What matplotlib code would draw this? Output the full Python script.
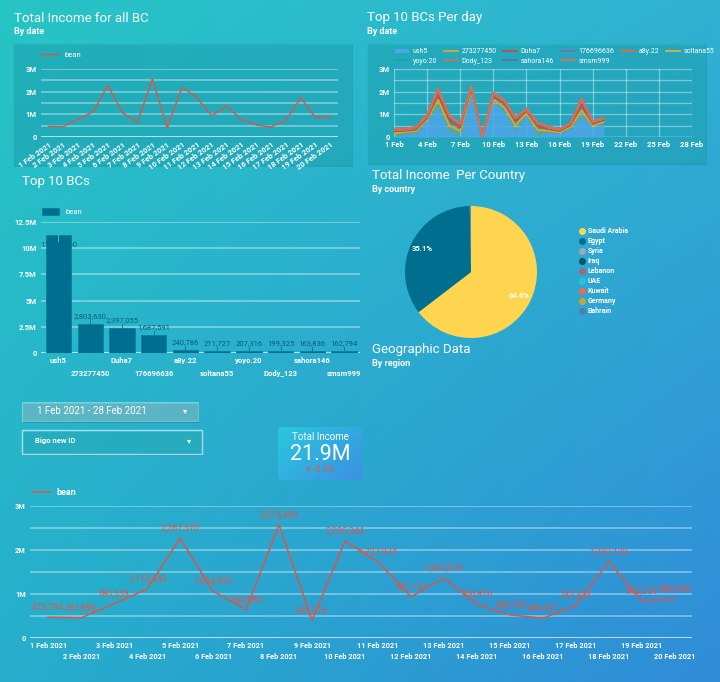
import numpy as np
import matplotlib.pyplot as plt
from matplotlib.patches import Rectangle, FancyBboxPatch, Patch

plt.rcParams['font.family'] = ['Roboto', 'DejaVu Sans']

W, H = 720, 682

# ---- data ----
days = list(range(1, 21))
day_labels = [f"{d} Feb 2021" for d in days]
daily_bean = [473794, 457889, 780553, 1110443, 2267570, 1064935, 646889,
              2573409, 395374, 2205344, 1727974, 937151, 1362976, 766876,
              528185, 448437, 742324, 1732129, 842234, 884698]

bc_names = ["ush5", "273277450", "Duha7", "176696636", "a8y.22",
            "soltana55", "yoyo.20", "Dody_123", "sahora146", "smsm999"]
bc_totals = [11300000, 2803630, 2397055, 1687591, 240786,
             211727, 207316, 199325, 163836, 162794]

# daily beans of the top 10 BCs (thousands), estimated from the small chart
ush5_day = [30, 160, 150, 700, 1350, 220, 70, 1950, 0, 1550, 1150, 250, 1000, 60, 200, 160, 340, 950, 450, 560]
p273_day = [140, 60, 120, 80, 300, 300, 200, 60, 0, 120, 150, 260, 60, 250, 80, 50, 100, 230, 60, 120]
duha7_day = [80, 50, 60, 60, 200, 260, 150, 100, 0, 120, 180, 200, 80, 180, 70, 50, 80, 250, 70, 60]
p176_day = [60, 40, 60, 80, 200, 120, 120, 60, 0, 100, 80, 100, 60, 100, 60, 40, 60, 200, 60, 60]
a8y_day = [15, 12, 12, 10, 20, 15, 10, 15, 0, 15, 12, 10, 10, 12, 10, 10, 10, 15, 10, 12]
soltana_day = [12, 10, 10, 10, 18, 12, 10, 12, 0, 14, 12, 10, 10, 10, 10, 8, 10, 14, 10, 10]
yoyo_day = [10, 10, 10, 10, 16, 12, 10, 12, 0, 14, 12, 10, 10, 10, 10, 8, 10, 14, 10, 10]
dody_day = [10, 10, 10, 10, 15, 12, 10, 12, 0, 12, 12, 10, 10, 10, 10, 8, 10, 14, 10, 8]
sahora_day = [8, 8, 8, 8, 12, 10, 8, 10, 0, 10, 10, 8, 8, 8, 8, 6, 8, 10, 8, 8]
smsm_day = [8, 8, 8, 8, 12, 10, 8, 10, 0, 10, 10, 8, 8, 8, 8, 6, 8, 10, 8, 8]
per_day = [ush5_day, p273_day, duha7_day, p176_day, a8y_day,
           soltana_day, yoyo_day, dody_day, sahora_day, smsm_day]
per_day_colors = ["#4da6e8", "#d9a92c", "#c94a40", "#7d6fa8", "#e8683c",
                  "#d8b534", "#1ba4ab", "#e06a4e", "#5a72b0", "#ea6c50"]

countries = ["Saudi Arabia", "Egypt", "Syria", "Iraq", "Lebanon",
             "UAE", "Kuwait", "Germany", "Bahrain"]
country_share = [64.6, 35.1, 0.08, 0.06, 0.05, 0.04, 0.03, 0.02, 0.02]
country_colors = ["#ffd54f", "#006f8f", "#9eaab4", "#00576e", "#a0687e",
                  "#28c4d8", "#ef6b55", "#c9a33a", "#4f7fae"]

RED = "#dc5546"
BAR = "#006f8f"

fig = plt.figure(figsize=(7.2, 6.82), dpi=100)

# background canvas in pixel coords
bg = fig.add_axes([0, 0, 1, 1], zorder=-10)
yy, xx = np.mgrid[0:1:200j, 0:1:200j]
tl = np.array([38, 197, 197]) / 255
tr = np.array([48, 178, 210]) / 255
bl = np.array([38, 174, 204]) / 255
br = np.array([48, 140, 216]) / 255
img = (tl * ((1 - xx) * (1 - yy))[..., None] + tr * (xx * (1 - yy))[..., None]
       + bl * ((1 - xx) * yy)[..., None] + br * (xx * yy)[..., None])
bg.imshow(img, aspect='auto', extent=[0, W, H, 0])
bg.axis('off')


def ax_px(x0, y0, x1, y1):
    a = fig.add_axes([x0 / W, 1 - y1 / H, (x1 - x0) / W, (y1 - y0) / H])
    a.set_facecolor('none')
    for s in a.spines.values():
        s.set_visible(False)
    return a


def txt(x, y, s, **kw):
    kw.setdefault('color', 'white')
    kw.setdefault('va', 'center')
    bg.text(x, y, s, **kw)


def grid_lines(ax, top, step):
    for g in np.arange(step, top + 1, step):
        ax.axhline(g, color='white', alpha=0.45, lw=1.1, zorder=0)
    ax.axhline(0, color='white', alpha=0.85, lw=1.1, zorder=0)


def stagger(ax, low=11, high=3):
    # every other x label on a second row
    for i, t in enumerate(ax.xaxis.get_major_ticks()):
        t.set_pad(high if i % 2 == 0 else low)


# panel boxes for the two top charts
for (x0, y0, x1, y1) in [(13, 43, 352, 165), (367, 43, 706, 163)]:
    bg.add_patch(Rectangle((x0 + 1, y0 + 2), x1 - x0, y1 - y0, facecolor='#0b5f75',
                           alpha=0.22, edgecolor='none'))
    bg.add_patch(Rectangle((x0, y0), x1 - x0, y1 - y0, facecolor='#22b2c0',
                           alpha=0.45, edgecolor='none'))

# titles
TS = 9.5
txt(14, 18, "Total Income for all BC", fontsize=TS)
txt(14, 31, "By date", fontsize=6.5, fontweight='bold')
txt(367, 18, "Top 10 BCs Per day", fontsize=TS)
txt(367, 31, "By date", fontsize=6.5, fontweight='bold')
txt(22, 181, "Top 10 BCs", fontsize=TS)
txt(372, 176, "Total Income  Per Country", fontsize=TS)
txt(372, 190, "By country", fontsize=6.5, fontweight='bold')
txt(372, 350, "Geographic Data", fontsize=TS)
txt(372, 364, "By region", fontsize=6.5, fontweight='bold')

x = np.arange(len(days))

# ---- chart 1: total income ----
ax1 = ax_px(41, 69, 338, 137)
grid_lines(ax1, 3e6, 0.5e6)
ax1.plot(x, daily_bean, color=RED, lw=1, label='bean')
ax1.set_ylim(0, 3e6)
ax1.set_xlim(-0.5, 19.5)
ax1.set_yticks([0, 1e6, 2e6, 3e6])
ax1.set_yticklabels(['0', '1M', '2M', '3M'], fontweight='bold')
ax1.set_xticks(x)
ax1.set_xticklabels(day_labels, rotation=35, ha='right', rotation_mode='anchor',
                    fontweight='bold')
ax1.tick_params(length=0, labelsize=5.5, labelcolor='white', pad=3)
ax1.legend(loc='lower left', bbox_to_anchor=(-0.01, 1.12), frameon=False,
           fontsize=5.5, labelcolor='white', handlelength=2.2, borderaxespad=0)

# ---- chart 2: top 10 per day ----
ax2 = ax_px(394, 69, 692, 137)
dx = np.array(days)
for g in np.arange(0.5e6, 3.01e6, 0.5e6):
    ax2.axhline(g, color='white', alpha=0.4, lw=0.9, zorder=0)
for d in range(1, 29, 3):
    ax2.axvline(d, color='white', alpha=0.4, lw=0.9, zorder=0)
ax2.axhline(0, color='white', alpha=0.85, lw=1, zorder=0)
base = np.zeros(len(days))
handles = []
for i, (name, vals) in enumerate(zip(bc_names, per_day)):
    top = base + np.array(vals) * 1000
    if i == 0:
        ax2.fill_between(dx, base, top, color=per_day_colors[i], alpha=0.85, lw=0)
        handles.append(Patch(facecolor=per_day_colors[i], label=name))
    else:
        ax2.fill_between(dx, base, top, color=per_day_colors[i], alpha=0.3, lw=0)
        ln, = ax2.plot(dx, top, color=per_day_colors[i], lw=1.3, label=name)
        handles.append(ln)
    base = top
ax2.set_ylim(0, 3e6)
ax2.set_xlim(1, 28)
ax2.set_yticks([0, 1e6, 2e6, 3e6])
ax2.set_yticklabels(['0', '1M', '2M', '3M'], fontweight='bold')
ax2.set_xticks(range(1, 29, 3))
ax2.set_xticklabels([f"{d} Feb" for d in range(1, 29, 3)], fontweight='bold')
ax2.tick_params(length=0, labelsize=5.5, labelcolor='white', pad=3)
order = [0, 6, 1, 7, 2, 8, 3, 9, 4, 5]
ax2.legend([handles[k] for k in order], [bc_names[k] for k in order], ncol=6,
           loc='lower left', bbox_to_anchor=(-0.005, 1.02), frameon=False,
           fontsize=5.0, labelcolor='white', handlelength=2.0, columnspacing=1.0,
           handletextpad=0.5, labelspacing=0.35, borderaxespad=0)

# ---- chart 3: top 10 BCs bars ----
ax3 = ax_px(41, 222, 360, 353)
grid_lines(ax3, 12.5e6, 2.5e6)
bi = np.arange(len(bc_names))
ax3.bar(bi, bc_totals, width=0.8, color=BAR, edgecolor='#0b7fa0', lw=0.6,
        label='bean', zorder=3)
for i, v in enumerate(bc_totals):
    if v > 10e6:
        ax3.text(i, v - 0.9e6, f"{v:,}", ha='center', va='center', fontsize=5.5,
                 color='#0d5c78', zorder=2)
        ax3.plot([i, i], [v, v - 0.6e6], color='#7fb8c8', lw=0.6, zorder=4)
    else:
        ax3.text(i, v + 0.75e6, f"{v:,}", ha='center', va='center', fontsize=5.5,
                 color='#0d5c78', zorder=4)
        ax3.plot([i, i], [v, v + 0.4e6], color='#1a6f8a', lw=0.6, zorder=4)
ax3.set_ylim(0, 12.5e6)
ax3.set_xlim(-0.55, 9.5)
ax3.set_yticks(np.arange(0, 12.6e6, 2.5e6))
ax3.set_yticklabels(['0', '2.5M', '5M', '7.5M', '10M', '12.5M'], fontweight='bold')
ax3.set_xticks(bi)
ax3.set_xticklabels(bc_names, fontweight='bold')
ax3.tick_params(length=0, labelsize=5.5, labelcolor='white', pad=3)
stagger(ax3, low=12, high=3)
ax3.legend(loc='lower left', bbox_to_anchor=(-0.005, 1.03), frameon=False,
           fontsize=5.5, labelcolor='white', handlelength=2.2, handleheight=1.0,
           borderaxespad=0)

# ---- chart 4: pie ----
ax4 = ax_px(405, 206, 537, 338)


def pct(p):
    return f"{p:.1f}%" if p > 5 else ""


ax4.pie(country_share, colors=country_colors, startangle=90, counterclock=False,
        autopct=pct, pctdistance=0.82, radius=1,
        textprops=dict(color='white', fontsize=5.5, fontweight='bold'))
ax4.set_xlim(-1, 1)
ax4.set_ylim(-1, 1)
ax4.set_aspect('equal')
for i, c in enumerate(countries):
    yc = 231 + i * 10
    bg.scatter([582], [yc], s=16, color=country_colors[i], zorder=3)
    txt(588, yc, c, fontsize=5, fontweight='bold')

# ---- controls ----
bg.add_patch(Rectangle((23, 404), 176, 19, facecolor='#0a5f70', alpha=0.3, edgecolor='none'))
bg.add_patch(Rectangle((22, 402), 176, 19, facecolor='white', alpha=0.28,
                       edgecolor='white', lw=0.8))
txt(37, 411, "1 Feb 2021 - 28 Feb 2021", fontsize=7)
txt(183, 411, "▾", fontsize=6)
bg.add_patch(Rectangle((23, 432), 180, 24, facecolor='#0a5f70', alpha=0.25, edgecolor='none'))
bg.add_patch(Rectangle((22, 430), 180, 24, facecolor='#2bb8c8', alpha=0.6,
                       edgecolor='white', lw=1))
txt(35, 441, "Bigo new ID", fontsize=5.5, fontweight='bold')
txt(187, 441, "▾", fontsize=6)

# scorecard
grad = np.linspace(0, 1, 100)[None, :] * 0.6 + np.linspace(0, 1, 60)[:, None] * 0.4
c0 = np.array([40, 200, 222]) / 255
c1 = np.array([60, 145, 226]) / 255
card = c0 * (1 - grad[..., None]) + c1 * grad[..., None]
im = bg.imshow(card, aspect='auto', extent=[278, 362, 480, 427], zorder=2)
clip = FancyBboxPatch((278, 427), 84, 53, boxstyle='round,pad=0,rounding_size=3',
                      transform=bg.transData, facecolor='none', edgecolor='none')
bg.add_patch(clip)
im.set_clip_path(clip)
bg.set_xlim(0, W)
bg.set_ylim(H, 0)
txt(320, 437, "Total Income", fontsize=7, ha='center', zorder=3)
txt(320, 454, "21.9M", fontsize=15.5, ha='center', zorder=3)
txt(320, 469, "▾ -0.3%", fontsize=6.5, ha='center', color='#e05a48', zorder=3)

# ---- chart 5: bottom big line ----
ax5 = ax_px(30, 506, 692, 638)
grid_lines(ax5, 3e6, 0.5e6)
ax5.plot(x, daily_bean, color=RED, lw=1.1, label='bean')
for i, v in enumerate(daily_bean):
    ax5.annotate(f"{v:,}", (i, v), xytext=(0, 7), textcoords='offset points',
                 ha='center', va='center', fontsize=6.5, color='#e0564a')
ax5.set_ylim(0, 3e6)
ax5.set_xlim(-0.55, 19.52)
ax5.set_yticks([0, 1e6, 2e6, 3e6])
ax5.set_yticklabels(['0', '1M', '2M', '3M'], fontweight='bold')
ax5.set_xticks(x)
ax5.set_xticklabels(day_labels, fontweight='bold')
ax5.tick_params(length=0, labelsize=5.3, labelcolor='white', pad=3)
stagger(ax5, low=11, high=3)
ax5.legend(loc='lower left', bbox_to_anchor=(-0.003, 1.04), frameon=False,
           labelcolor='white', handlelength=2.0, borderaxespad=0,
           prop=dict(weight='bold', size=6.5))

fig.savefig("out.png", dpi=100)
